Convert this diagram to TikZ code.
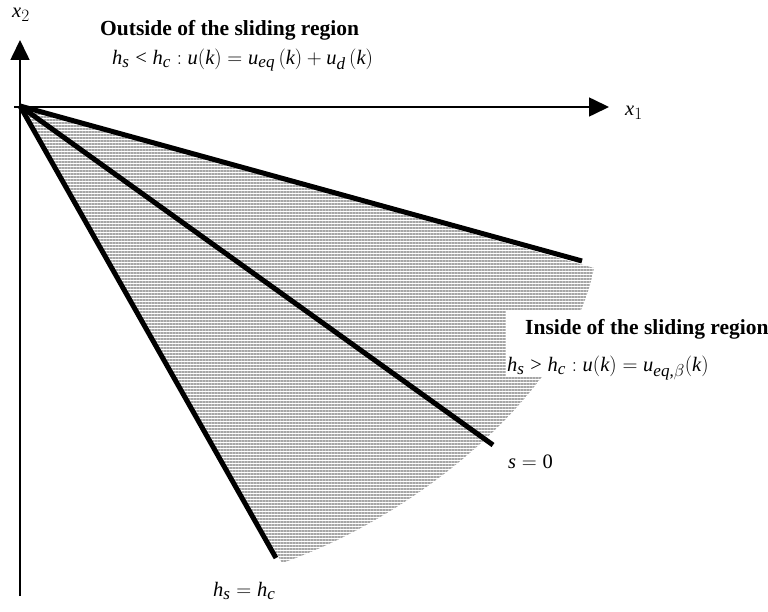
\documentclass[tikz,border=0pt]{standalone}
\usepackage{fontspec}
\setmainfont{Liberation Serif}
\usepackage[italic]{mathastext}
\usetikzlibrary{arrows.meta,patterns.meta}
\begin{document}
\begin{tikzpicture}[x=1pt,y=-1pt,
  axis/.style={line width=1.6pt,-{Triangle[length=20pt,width=19pt]}},
  bound/.style={line width=5pt},
  lbl/.style={inner sep=0pt,font=\fontsize{20.5}{23}\selectfont},
  ttl/.style={inner sep=0pt,font=\fontsize{21.5}{24}\selectfont\bfseries}]
\useasboundingbox (0,0) rectangle (768,612);
\coordinate (O) at (20,106);
\coordinate (A) at (582,261);
\coordinate (B) at (493,445);
\coordinate (C) at (276,558);
% shaded sliding region
\path[pattern={Lines[angle=0,distance=3pt,line width=1.2pt]},pattern color=black!35]
  (O) -- (594,268) .. controls (570,390) and (420,515) .. (282,563) -- cycle;
% axes
\coordinate (ybot) at (20,596);
\coordinate (ytop) at (20,40);
\coordinate (xleft) at (14,107);
\coordinate (xright) at (609,107);
\draw[axis] (ybot) -- (ytop);
\draw[axis] (xleft) -- (xright);
% boundaries
\draw[bound] (O) -- (A);
\draw[bound] (O) -- (B);
\draw[bound] (O) -- (C);
% labels
\node[lbl] (x2) at (21,15) {$x_2$};
\node[lbl] (x1) at (634,113) {$x_1$};
\node[ttl,anchor=west] (out) at (100,30) {Outside of the sliding region};
\node[lbl,anchor=west] (outeq) at (112,60) {$h_s < h_c : u(k) = u_{eq}\,(k) + u_d\,(k)$};
\node[fill=white,inner sep=0pt,anchor=north west,minimum width=263pt,minimum height=66pt] (box) at (506,311) {};
\node[ttl,anchor=west] (in) at (525,329) {Inside of the sliding region};
\node[lbl,anchor=west] (ineq) at (507,368) {$h_s > h_c : u(k) = u_{eq,\beta}(k)$};
\node[lbl,anchor=west] (s0) at (508,462) {$s = \mbox{0}$};
\node[lbl,anchor=west] (hshc) at (213,591) {$h_s = h_c$};
\end{tikzpicture}
\end{document}
